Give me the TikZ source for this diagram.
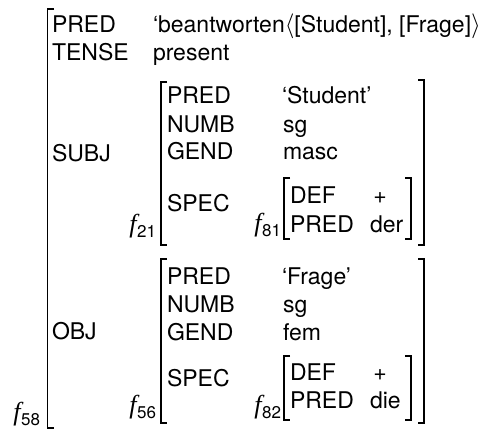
\documentclass[tikz,border=0pt]{standalone}
\usepackage{fontspec}
\setmainfont{TeX Gyre Heros}
\newfontfamily\fvarfont{Liberation Serif}
\begin{document}
\begin{tikzpicture}[x=1pt,y=-1pt,
  every node/.style={inner sep=0pt,outer sep=0pt,font=\fontsize{23}{28}\selectfont},
  txt/.style={anchor=base west},
  fvar/.style={anchor=base east},
  brk/.style={line width=1.4pt,line join=miter}]
\useasboundingbox (0,0) rectangle (487,433);
\newcommand{\fv}[1]{{\fontsize{26}{26}\selectfont\fvarfont\itshape f}\kern0.5pt\raisebox{-5pt}{\fontsize{17}{17}\selectfont #1}}

% outer f-structure
\draw[brk] (54,9) -- (47.5,9) -- (47.5,428) -- (54,428);
\node[fvar] (f58) at (40,420) {\fv{58}};
\node[txt] (pa) at (52,33) {PRED};
\node[txt] (pv) at (153,33) {`beantworten$\langle$[Student], [Frage]$\rangle$};
\node[txt] (ta) at (52,61) {TENSE};
\node[txt] (tv) at (153,61) {present};
\node[txt] (subj) at (52,161) {SUBJ};
\node[txt] (obj) at (52,339) {OBJ};

% subject f-structure
\begin{scope}[shift={(0,82)}]
\draw[brk] (167,0) -- (161,0) -- (161,163) -- (167,163);
\draw[brk] (418,-2) -- (424,-2) -- (424,163) -- (418,163);
\node[fvar] (f21) at (156,150) {\fv{21}};
\node[txt] (s1) at (167,22) {PRED};
\node[txt] (s1v) at (282,22) {`Student'};
\node[txt] (s2) at (167,50) {NUMB};
\node[txt] (s2v) at (283,50) {sg};
\node[txt] (s3) at (167,78) {GEND};
\node[txt] (s3v) at (283,78) {masc};
\node[txt] (s4) at (167,129) {SPEC};
\draw[brk] (290,96) -- (284,96) -- (284,157) -- (290,157);
\draw[brk] (405,96) -- (411,96) -- (411,157) -- (405,157);
\node[fvar] (f81) at (281,149) {\fv{81}};
\node[txt] (d1) at (290,121) {DEF};
\node[anchor=base] (d1v) at (380,121) {+};
\node[txt] (d2) at (290,150) {PRED};
\node[txt] (d2v) at (370,150) {der};
\end{scope}

% object f-structure
\begin{scope}[shift={(0,259)}]
\draw[brk] (167,0) -- (161,0) -- (161,164) -- (167,164);
\draw[brk] (418,0) -- (424,0) -- (424,164) -- (418,164);
\node[fvar] (f56) at (156,154) {\fv{56}};
\node[txt] (o1) at (167,25) {PRED};
\node[txt] (o1v) at (282,25) {`Frage'};
\node[txt] (o2) at (167,53) {NUMB};
\node[txt] (o2v) at (283,53) {sg};
\node[txt] (o3) at (167,81) {GEND};
\node[txt] (o3v) at (283,81) {fem};
\node[txt] (o4) at (167,127) {SPEC};
\draw[brk] (290,97) -- (284,97) -- (284,161) -- (290,161);
\draw[brk] (405,97) -- (411,97) -- (411,161) -- (405,161);
\node[fvar] (f82) at (281,154) {\fv{82}};
\node[txt] (e1) at (290,121) {DEF};
\node[anchor=base] (e1v) at (380,121) {+};
\node[txt] (e2) at (290,149) {PRED};
\node[txt] (e2v) at (370,149) {die};
\end{scope}
\end{tikzpicture}
\end{document}
